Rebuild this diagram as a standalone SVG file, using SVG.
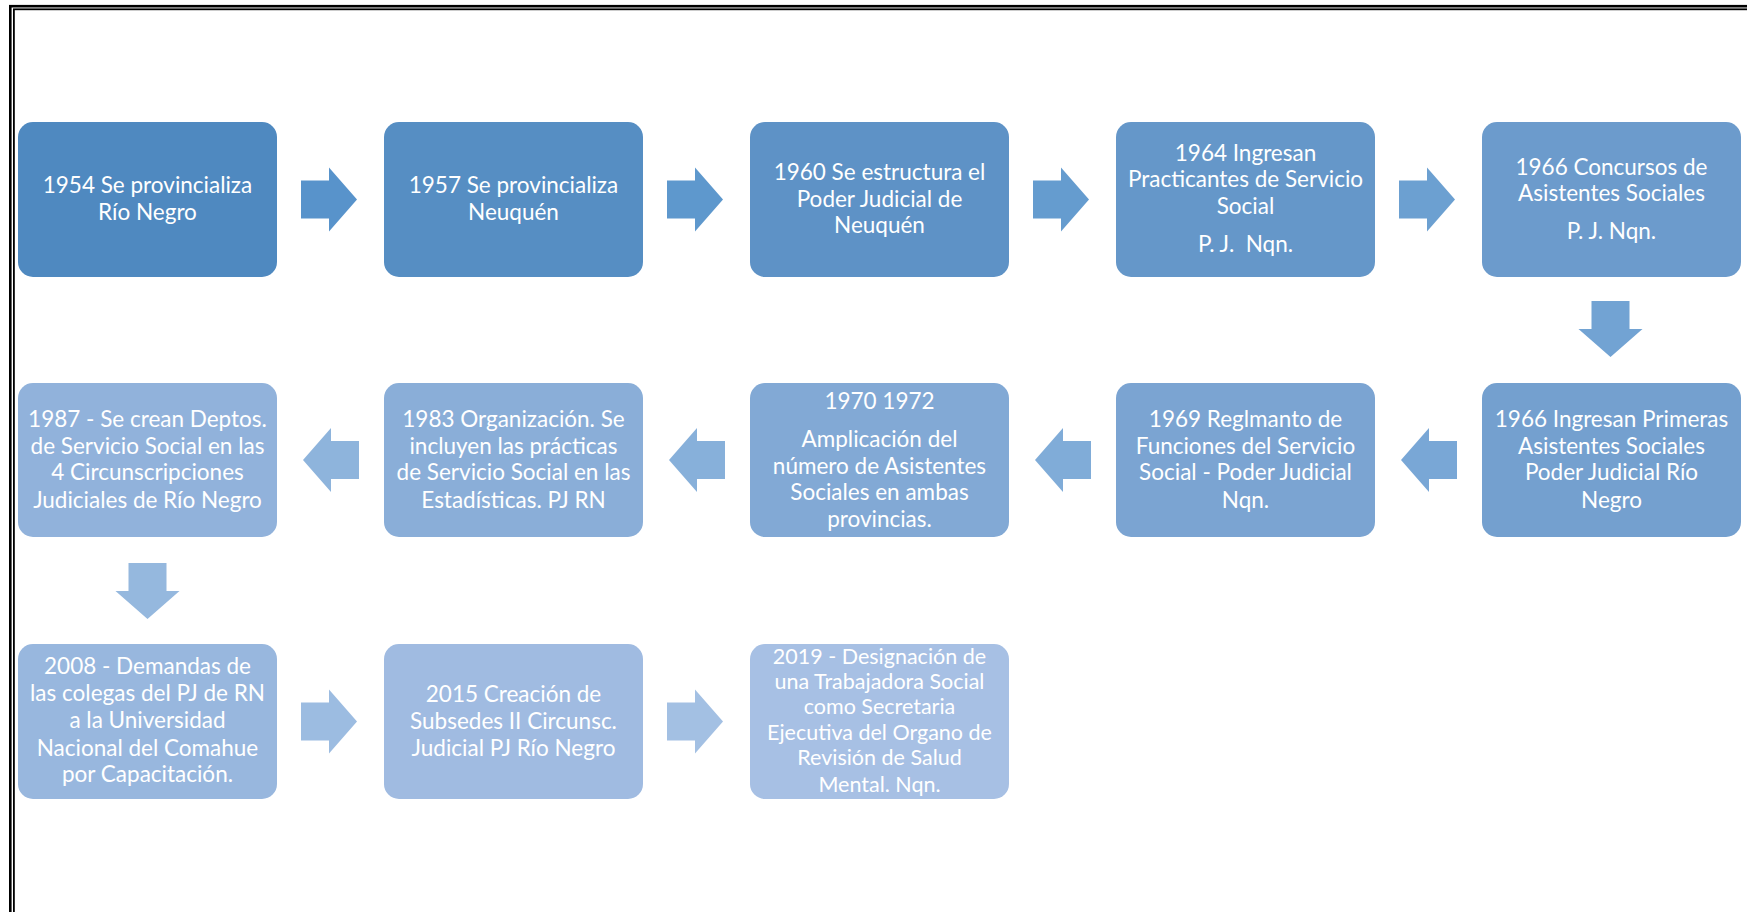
<svg xmlns="http://www.w3.org/2000/svg" width="1747" height="912" viewBox="0 0 1747 912">
<style>
.box{rx:15;ry:15}
.t{font-family:Lato,"Liberation Sans",sans-serif;font-size:22.5px;fill:#ffffff;text-anchor:middle}
.s{font-size:21.5px}
</style>
<rect width="1747" height="912" fill="#ffffff"/>
<rect x="10.3" y="6.2" width="1800" height="1000" fill="none" stroke="#000" stroke-width="2.6"/>
<rect x="13.9" y="9.3" width="1800" height="1000" fill="none" stroke="#000" stroke-width="1.8"/>

<g id="connectors">
  <polygon fill="#5893CB" points="301,180.5 329,180.5 329,167.5 357,199.5 329,231.5 329,218.5 301,218.5"/>
  <polygon fill="#5E98CD" points="667,180.5 695,180.5 695,167.5 723,199.5 695,231.5 695,218.5 667,218.5"/>
  <polygon fill="#659CCF" points="1033,180.5 1061,180.5 1061,167.5 1089,199.5 1061,231.5 1061,218.5 1033,218.5"/>
  <polygon fill="#6CA0D1" points="1399,180.5 1427,180.5 1427,167.5 1455,199.5 1427,231.5 1427,218.5 1399,218.5"/>
  <polygon fill="#72A3D3" points="1591.5,301 1591.5,329 1578.5,329 1610.5,357 1642.5,329 1629.5,329 1629.5,301"/>
  <polygon fill="#79A7D6" points="1457,441 1429,441 1429,428 1401,460 1429,492 1429,479 1457,479"/>
  <polygon fill="#80ACD8" points="1091,441 1063,441 1063,428 1035,460 1063,492 1063,479 1091,479"/>
  <polygon fill="#87B0DA" points="725,441 697,441 697,428 669,460 697,492 697,479 725,479"/>
  <polygon fill="#8EB4DC" points="359,441 331,441 331,428 303,460 331,492 331,479 359,479"/>
  <polygon fill="#95B8DE" points="128.5,563 128.5,591 115.5,591 147.5,619 179.5,591 166.5,591 166.5,563"/>
  <polygon fill="#9CBCE1" points="301,702.5 329,702.5 329,689.5 357,721.5 329,753.5 329,740.5 301,740.5"/>
  <polygon fill="#A3C0E3" points="667,702.5 695,702.5 695,689.5 723,721.5 695,753.5 695,740.5 667,740.5"/>
</g>

<g id="n1954">
  <rect class="box" x="18" y="122" width="259" height="155" fill="#4F89C0"/>
  <text class="t" x="147.5" y="193">1954 Se provincializa</text>
  <text class="t" x="147.5" y="220">Río Negro</text>
</g>
<g id="n1957">
  <rect class="box" x="384" y="122" width="259" height="155" fill="#568EC3"/>
  <text class="t" x="513.5" y="193">1957 Se provincializa</text>
  <text class="t" x="513.5" y="220">Neuquén</text>
</g>
<g id="n1960">
  <rect class="box" x="750" y="122" width="259" height="155" fill="#5E92C6"/>
  <text class="t" x="879.5" y="180">1960 Se estructura el</text>
  <text class="t" x="879.5" y="206.5">Poder Judicial de</text>
  <text class="t" x="879.5" y="233">Neuquén</text>
</g>
<g id="n1964">
  <rect class="box" x="1116" y="122" width="259" height="155" fill="#6597C9"/>
  <text class="t" x="1245.5" y="160.5">1964 Ingresan</text>
  <text class="t" x="1245.5" y="187">Practicantes de Servicio</text>
  <text class="t" x="1245.5" y="214">Social</text>
  <text class="t" x="1245.5" y="252" xml:space="preserve">P. J.  Nqn.</text>
</g>
<g id="n1966a">
  <rect class="box" x="1482" y="122" width="259" height="155" fill="#6C9BCC"/>
  <text class="t" x="1611.5" y="174.5">1966 Concursos de</text>
  <text class="t" x="1611.5" y="201">Asistentes Sociales</text>
  <text class="t" x="1611.5" y="238.5">P. J. Nqn.</text>
</g>

<g id="n1966b">
  <rect class="box" x="1482" y="383" width="259" height="154" fill="#74A0CF"/>
  <text class="t" x="1611.5" y="427">1966 Ingresan Primeras</text>
  <text class="t" x="1611.5" y="453.5">Asistentes Sociales</text>
  <text class="t" x="1611.5" y="480">Poder Judicial Río</text>
  <text class="t" x="1611.5" y="508">Negro</text>
</g>
<g id="n1969">
  <rect class="box" x="1116" y="383" width="259" height="154" fill="#7BA4D2"/>
  <text class="t" x="1245.5" y="427">1969 Reglmanto de</text>
  <text class="t" x="1245.5" y="453.5">Funciones del Servicio</text>
  <text class="t" x="1245.5" y="480">Social - Poder Judicial</text>
  <text class="t" x="1245.5" y="508">Nqn.</text>
</g>
<g id="n1970">
  <rect class="box" x="750" y="383" width="259" height="154" fill="#82A9D5"/>
  <text class="t" x="879.5" y="408.5">1970 1972</text>
  <text class="t" x="879.5" y="447">Amplicación del</text>
  <text class="t" x="879.5" y="473.5">número de Asistentes</text>
  <text class="t" x="879.5" y="500">Sociales en ambas</text>
  <text class="t" x="879.5" y="527">provincias.</text>
</g>
<g id="n1983">
  <rect class="box" x="384" y="383" width="259" height="154" fill="#8AAED8"/>
  <text class="t" x="513.5" y="427">1983 Organización. Se</text>
  <text class="t" x="513.5" y="453.5">incluyen las prácticas</text>
  <text class="t" x="513.5" y="480">de Servicio Social en las</text>
  <text class="t" x="513.5" y="508">Estadísticas. PJ RN</text>
</g>
<g id="n1987">
  <rect class="box" x="18" y="383" width="259" height="154" fill="#91B2DB"/>
  <text class="t" x="147.5" y="427">1987 - Se crean Deptos.</text>
  <text class="t" x="147.5" y="453.5">de Servicio Social en las</text>
  <text class="t" x="147.5" y="480">4 Circunscripciones</text>
  <text class="t" x="147.5" y="508">Judiciales de Río Negro</text>
</g>

<g id="n2008">
  <rect class="box" x="18" y="644" width="259" height="155" fill="#98B7DE"/>
  <text class="t" x="147.5" y="674">2008 - Demandas de</text>
  <text class="t" x="147.5" y="701">las colegas del PJ de RN</text>
  <text class="t" x="147.5" y="728">a la Universidad</text>
  <text class="t" x="147.5" y="755.5">Nacional del Comahue</text>
  <text class="t" x="147.5" y="782">por Capacitación.</text>
</g>
<g id="n2015">
  <rect class="box" x="384" y="644" width="259" height="155" fill="#A0BBE1"/>
  <text class="t" x="513.5" y="702">2015 Creación de</text>
  <text class="t" x="513.5" y="729">Subsedes II Circunsc.</text>
  <text class="t" x="513.5" y="756">Judicial PJ Río Negro</text>
</g>
<g id="n2019">
  <rect class="box" x="750" y="644" width="259" height="155" fill="#A7C0E4"/>
  <text class="t s" x="879.5" y="663.5">2019 - Designación de</text>
  <text class="t s" x="879.5" y="688.5">una Trabajadora Social</text>
  <text class="t s" x="879.5" y="713.5">como Secretaria</text>
  <text class="t s" x="879.5" y="740">Ejecutiva del Organo de</text>
  <text class="t s" x="879.5" y="765">Revisión de Salud</text>
  <text class="t s" x="879.5" y="791.5">Mental. Nqn.</text>
</g>
</svg>
